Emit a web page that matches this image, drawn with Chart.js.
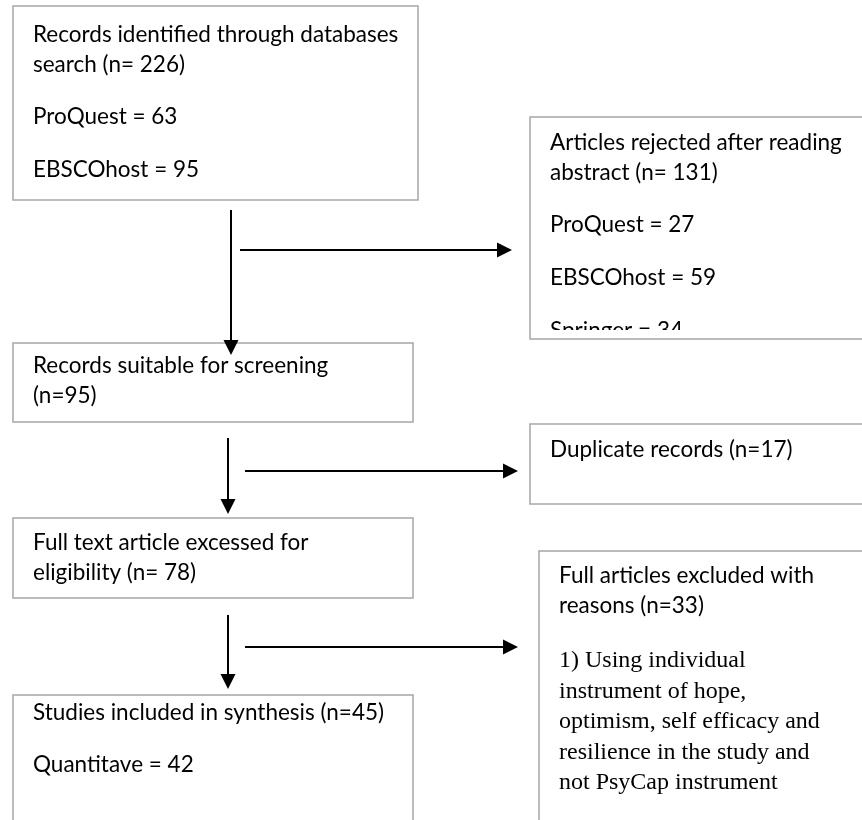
<!DOCTYPE html>
<html>
<head>
<meta charset="utf-8">
<script src="https://cdn.jsdelivr.net/npm/chart.js@4"></script>
<style>
  html, body { margin: 0; padding: 0; background: #fff; }
  #wrap { width: 862px; height: 820px; }
</style>
</head>
<body>
<div id="wrap"><canvas id="myChart" width="862" height="820"></canvas></div>
<script>
// flow data (counts)
const stageLabels = [
  ['Records identified through databases', 'search (n= 226)'],
  ['Records suitable for screening', '(n=95)'],
  ['Full text article excessed for', 'eligibility (n= 78)'],
  ['Studies included in synthesis (n=45)'],
];
const stageCounts = [226, 95, 78, 45];
const stageSources = [
  ['ProQuest = 63', 'EBSCOhost = 95'],
  [],
  [],
  ['Quantitave = 42'],
];

const excludedLabels = [
  ['Articles rejected after reading', 'abstract (n= 131)'],
  ['Duplicate records (n=17)'],
  ['Full articles excluded with', 'reasons (n=33)'],
];
const excludedCounts = [131, 17, 33];
const excludedDetails = [
  ['ProQuest = 27', 'EBSCOhost = 59', 'Springer = 34'],
  [],
  ['1) Using individual', 'instrument of hope,', 'optimism, self efficacy and', 'resilience in the study and', 'not PsyCap instrument'],
];

// box placement in diagram units (x 0..862, y 0..820, y down)
const stageBoxes = [
  { x0: 13, y0: 6, x1: 418, y1: 200, text: 42 },
  { x0: 13, y0: 343, x1: 413, y1: 422, text: 373 },
  { x0: 13, y0: 518, x1: 413, y1: 598, text: 550 },
  { x0: 13, y0: 695, x1: 413, y1: 840, text: 720 },
];
const excludedBoxes = [
  { x0: 530, y0: 117, x1: 880, y1: 339, text: 150, clip: 330 },
  { x0: 530, y0: 424, x1: 880, y1: 504, text: 457 },
  { x0: 539, y0: 551, x1: 880, y1: 840, text: 583 },
];
const downArrows = [
  { x: 231, y0: 210, y1: 355 },
  { x: 228, y0: 438, y1: 514 },
  { x: 228, y0: 615, y1: 689 },
];
const sideArrows = [
  { y: 250, x0: 240, x1: 512 },
  { y: 471, x0: 245, x1: 518 },
  { y: 647, x0: 245, x1: 518 },
];

const SANS = '22.5px Lato, "Open Sans", sans-serif';
const SERIF = '24px "Liberation Serif", serif';

function arrow(ctx, ax, ay, bx, by) {
  const ang = Math.atan2(by - ay, bx - ax);
  const L = 15, W = 7.5;
  ctx.beginPath();
  ctx.moveTo(ax, ay);
  ctx.lineTo(bx - Math.cos(ang) * L, by - Math.sin(ang) * L);
  ctx.stroke();
  ctx.beginPath();
  ctx.moveTo(bx, by);
  ctx.lineTo(bx - Math.cos(ang) * L - Math.sin(ang) * W, by - Math.sin(ang) * L + Math.cos(ang) * W);
  ctx.lineTo(bx - Math.cos(ang) * L + Math.sin(ang) * W, by - Math.sin(ang) * L - Math.cos(ang) * W);
  ctx.closePath();
  ctx.fill();
}

function drawBox(chart, box, heading, extra, extraFont) {
  const ctx = chart.ctx;
  const sx = chart.scales.x, sy = chart.scales.y;
  const X0 = sx.getPixelForValue(box.x0), X1 = sx.getPixelForValue(box.x1);
  const Y0 = sy.getPixelForValue(box.y0), Y1 = sy.getPixelForValue(box.y1);
  ctx.save();
  ctx.fillStyle = '#fff';
  ctx.fillRect(X0, Y0, X1 - X0, Y1 - Y0);
  ctx.strokeStyle = '#a6a6a6';
  ctx.lineWidth = 1.5;
  ctx.strokeRect(X0, Y0, X1 - X0, Y1 - Y0);
  if (box.clip) {
    ctx.beginPath();
    ctx.rect(X0, Y0, X1 - X0, sy.getPixelForValue(box.clip) - Y0);
    ctx.clip();
  }
  ctx.fillStyle = '#000';
  ctx.textBaseline = 'alphabetic';
  let y = box.text;
  const tx = sx.getPixelForValue(box.x0 + 20);
  ctx.font = SANS;
  heading.forEach((t, i) => {
    if (i > 0) y += 30;
    ctx.fillText(t, tx, sy.getPixelForValue(y));
  });
  ctx.font = extraFont;
  const gap = extraFont === SERIF ? 30.5 : 53;
  extra.forEach((t, i) => {
    y += (i === 0) ? (extraFont === SERIF ? 54 : 52) : gap;
    ctx.fillText(t, tx, sy.getPixelForValue(y));
  });
  ctx.restore();
}

const flowPlugin = {
  id: 'flow',
  afterDraw(chart) {
    const ctx = chart.ctx;
    const sx = chart.scales.x, sy = chart.scales.y;
    stageBoxes.forEach((b, i) => drawBox(chart, b, stageLabels[i], stageSources[i], SANS));
    excludedBoxes.forEach((b, i) => drawBox(chart, b, excludedLabels[i], excludedDetails[i], i === 2 ? SERIF : SANS));
    ctx.save();
    ctx.strokeStyle = '#000';
    ctx.fillStyle = '#000';
    ctx.lineWidth = 2;
    downArrows.forEach(a => arrow(ctx, sx.getPixelForValue(a.x), sy.getPixelForValue(a.y0), sx.getPixelForValue(a.x), sy.getPixelForValue(a.y1)));
    sideArrows.forEach(a => arrow(ctx, sx.getPixelForValue(a.x0), sy.getPixelForValue(a.y), sx.getPixelForValue(a.x1), sy.getPixelForValue(a.y)));
    ctx.restore();
  }
};

const config = {
  type: 'scatter',
  data: { datasets: [{ data: [] }] },
  options: {
    responsive: false,
    animation: false,
    layout: { padding: 0 },
    plugins: { legend: { display: false }, tooltip: { enabled: false } },
    scales: {
      x: { type: 'linear', min: 0, max: 862, display: false },
      y: { type: 'linear', min: 0, max: 820, reverse: true, display: false },
    },
  },
  plugins: [flowPlugin],
};

const myChart = new Chart(document.getElementById('myChart'), config);
</script>
</body>
</html>
